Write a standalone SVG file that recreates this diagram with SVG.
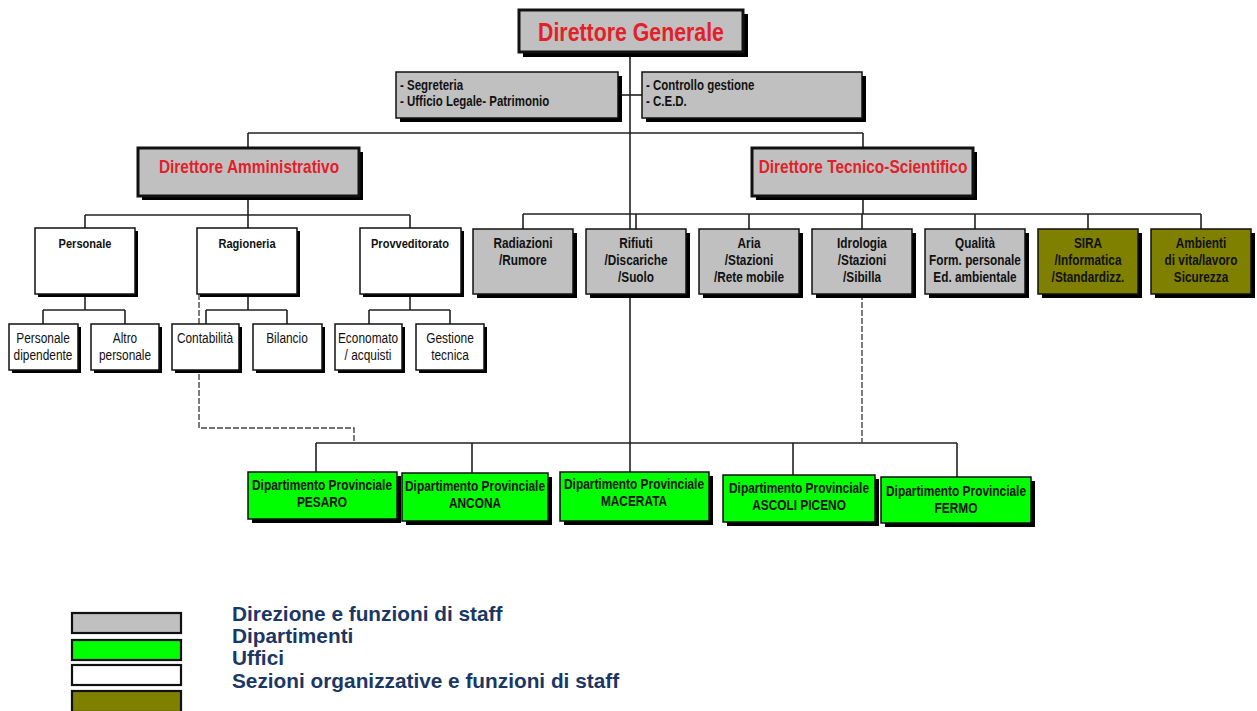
<svg xmlns="http://www.w3.org/2000/svg" width="1257" height="711" viewBox="0 0 1257 711">
  <style>
    .bg { fill: #ffffff; }
    .sh { fill: #000000; }
    .box { stroke: #111111; stroke-width: 1.5; }
    .main { stroke: #111111; stroke-width: 3; }
    .gray { fill: #C0C0C0; }
    .green { fill: #00FF00; }
    .white { fill: #FFFFFF; }
    .olive { fill: #808000; }
    .conn { fill: none; stroke: #222222; stroke-width: 1.6; }
    .dash { fill: none; stroke: #444444; stroke-width: 1.4; stroke-dasharray: 6 2; }
    /* condensed lettering: Liberation Sans squeezed to Arial Narrow proportions via transform */
    .nb { font-family: "Liberation Sans", Arial, sans-serif; font-weight: bold; fill: #111111; }
    .nr { font-family: "Liberation Sans", Arial, sans-serif; font-weight: normal; fill: #111111; }
    .red { fill: #E3202A; }
    .c { text-anchor: middle; }
    .s14 { font-size: 14px; }
    .t { font-size: 14.4px; }
    .k { font-size: 14.5px; }
    .legend { font-family: "Liberation Sans", Arial, sans-serif; font-weight: bold; font-size: 20.8px; fill: #1B3763; }
  </style>

  <rect class="bg" x="0" y="0" width="1257" height="711"/>

  <!-- connectors -->
  <g id="connectors">
    <path class="conn" d="M630 52 V472"/>
    <path class="conn" d="M618 95 H642"/>
    <path class="conn" d="M248 133 H863 M248 133 V148 M863 133 V148"/>
    <!-- administrative branch -->
    <path class="conn" d="M248 196 V228 M85 215 H410 M85 215 V228 M410 215 V228"/>
    <path class="conn" d="M85 294 V310 M43 310 H125 M43 310 V324 M125 310 V324"/>
    <path class="conn" d="M248 294 V310 M206 310 H287 M206 310 V324 M287 310 V324"/>
    <path class="conn" d="M410 294 V310 M369 310 H450 M369 310 V324 M450 310 V324"/>
    <!-- technical branch -->
    <path class="conn" d="M863 196 V214 M523 214 H1201 M523 214 V229 M636 214 V229 M749 214 V229 M862 214 V229 M975 214 V229 M1088 214 V229 M1201 214 V229"/>
    <!-- provincial departments -->
    <path class="conn" d="M316 443 H957 M316 443 V472 M472 443 V473 M793 443 V475 M957 443 V477"/>
    <path class="dash" d="M199 294 V428 H354 V443"/>
    <path class="dash" d="M862 294 V443"/>
  </g>

  <!-- top management -->
  <g id="direttore-generale">
    <rect class="sh" x="523" y="14" width="225" height="43"/>
    <rect class="gray main" x="519" y="10" width="224" height="42"/>
    <text class="nb red c" transform="matrix(0.82 0 0 1 631 0)" x="0" y="41" font-size="26">Direttore Generale</text>
  </g>
  <g id="staff-segreteria">
    <rect class="sh" x="400" y="76" width="222" height="46"/>
    <rect class="gray box" x="396" y="72" width="222" height="46"/>
    <text class="nb s14" transform="matrix(0.82 0 0 1 400 0)" x="0" y="90">- Segreteria</text>
    <text class="nb s14" transform="matrix(0.82 0 0 1 400 0)" x="0" y="106">- Ufficio Legale- Patrimonio</text>
  </g>
  <g id="staff-controllo">
    <rect class="sh" x="646" y="76" width="220" height="46"/>
    <rect class="gray box" x="642" y="72" width="220" height="46"/>
    <text class="nb s14" transform="matrix(0.82 0 0 1 646 0)" x="0" y="90">- Controllo gestione</text>
    <text class="nb s14" transform="matrix(0.82 0 0 1 646 0)" x="0" y="106">- C.E.D.</text>
  </g>

  <g id="direttore-amministrativo">
    <rect class="sh" x="142" y="152" width="221" height="48"/>
    <rect class="gray main" x="138" y="148" width="221" height="48"/>
    <text class="nb red c" transform="matrix(0.82 0 0 1 249 0)" x="0" y="173" font-size="18.8">Direttore Amministrativo</text>
  </g>
  <g id="direttore-tecnico">
    <rect class="sh" x="756" y="152" width="221" height="48"/>
    <rect class="gray main" x="752" y="148" width="221" height="48"/>
    <text class="nb red c" transform="matrix(0.82 0 0 1 863 0)" x="0" y="173" font-size="18.8">Direttore Tecnico-Scientifico</text>
  </g>

  <!-- administrative offices -->
  <g id="personale">
    <rect class="sh" x="38" y="231" width="100" height="66"/>
    <rect class="white box" x="35" y="228" width="100" height="66"/>
    <text class="nb c" transform="matrix(0.82 0 0 1 85 0)" x="0" y="248" font-size="13.5">Personale</text>
  </g>
  <g id="ragioneria">
    <rect class="sh" x="200" y="231" width="100" height="66"/>
    <rect class="white box" x="197" y="228" width="100" height="66"/>
    <text class="nb c" transform="matrix(0.82 0 0 1 247 0)" x="0" y="248" font-size="13.5">Ragioneria</text>
  </g>
  <g id="provveditorato">
    <rect class="sh" x="363" y="231" width="101" height="66"/>
    <rect class="white box" x="360" y="228" width="101" height="66"/>
    <text class="nb c" transform="matrix(0.82 0 0 1 410 0)" x="0" y="248" font-size="13.5">Provveditorato</text>
  </g>

  <g id="personale-dipendente">
    <rect class="sh" x="12" y="327" width="69" height="46"/>
    <rect class="white box" x="9" y="324" width="69" height="46"/>
    <text class="nr c k" transform="matrix(0.82 0 0 1 43 0)" x="0" y="343">Personale</text>
    <text class="nr c k" transform="matrix(0.82 0 0 1 43 0)" x="0" y="360">dipendente</text>
  </g>
  <g id="altro-personale">
    <rect class="sh" x="94" y="327" width="68" height="46"/>
    <rect class="white box" x="91" y="324" width="68" height="46"/>
    <text class="nr c k" transform="matrix(0.82 0 0 1 125 0)" x="0" y="343">Altro</text>
    <text class="nr c k" transform="matrix(0.82 0 0 1 125 0)" x="0" y="360">personale</text>
  </g>
  <g id="contabilita">
    <rect class="sh" x="175" y="327" width="67" height="46"/>
    <rect class="white box" x="172" y="324" width="67" height="46"/>
    <text class="nr c k" transform="matrix(0.82 0 0 1 205 0)" x="0" y="343">Contabilità</text>
  </g>
  <g id="bilancio">
    <rect class="sh" x="256" y="327" width="69" height="46"/>
    <rect class="white box" x="253" y="324" width="69" height="46"/>
    <text class="nr c k" transform="matrix(0.82 0 0 1 287 0)" x="0" y="343">Bilancio</text>
  </g>
  <g id="economato">
    <rect class="sh" x="338" y="327" width="67" height="46"/>
    <rect class="white box" x="335" y="324" width="67" height="46"/>
    <text class="nr c k" transform="matrix(0.82 0 0 1 368 0)" x="0" y="343">Economato</text>
    <text class="nr c k" transform="matrix(0.82 0 0 1 368 0)" x="0" y="360">/ acquisti</text>
  </g>
  <g id="gestione-tecnica">
    <rect class="sh" x="419" y="327" width="68" height="46"/>
    <rect class="white box" x="416" y="324" width="68" height="46"/>
    <text class="nr c k" transform="matrix(0.82 0 0 1 450 0)" x="0" y="343">Gestione</text>
    <text class="nr c k" transform="matrix(0.82 0 0 1 450 0)" x="0" y="360">tecnica</text>
  </g>

  <!-- technical sections -->
  <g id="radiazioni">
    <rect class="sh" x="477" y="233" width="100" height="65"/>
    <rect class="gray box" x="473" y="229" width="100" height="65"/>
    <text class="nb c t" transform="matrix(0.82 0 0 1 523 0)" x="0" y="248">Radiazioni</text>
    <text class="nb c t" transform="matrix(0.82 0 0 1 523 0)" x="0" y="265">/Rumore</text>
  </g>
  <g id="rifiuti">
    <rect class="sh" x="590" y="233" width="100" height="65"/>
    <rect class="gray box" x="586" y="229" width="100" height="65"/>
    <text class="nb c t" transform="matrix(0.82 0 0 1 636 0)" x="0" y="248">Rifiuti</text>
    <text class="nb c t" transform="matrix(0.82 0 0 1 636 0)" x="0" y="265">/Discariche</text>
    <text class="nb c t" transform="matrix(0.82 0 0 1 636 0)" x="0" y="282">/Suolo</text>
  </g>
  <g id="aria">
    <rect class="sh" x="703" y="233" width="100" height="65"/>
    <rect class="gray box" x="699" y="229" width="100" height="65"/>
    <text class="nb c t" transform="matrix(0.82 0 0 1 749 0)" x="0" y="248">Aria</text>
    <text class="nb c t" transform="matrix(0.82 0 0 1 749 0)" x="0" y="265">/Stazioni</text>
    <text class="nb c t" transform="matrix(0.82 0 0 1 749 0)" x="0" y="282">/Rete mobile</text>
  </g>
  <g id="idrologia">
    <rect class="sh" x="816" y="233" width="100" height="65"/>
    <rect class="gray box" x="812" y="229" width="100" height="65"/>
    <text class="nb c t" transform="matrix(0.82 0 0 1 862 0)" x="0" y="248">Idrologia</text>
    <text class="nb c t" transform="matrix(0.82 0 0 1 862 0)" x="0" y="265">/Stazioni</text>
    <text class="nb c t" transform="matrix(0.82 0 0 1 862 0)" x="0" y="282">/Sibilla</text>
  </g>
  <g id="qualita">
    <rect class="sh" x="929" y="233" width="100" height="65"/>
    <rect class="gray box" x="925" y="229" width="100" height="65"/>
    <text class="nb c t" transform="matrix(0.82 0 0 1 975 0)" x="0" y="248">Qualità</text>
    <text class="nb c t" transform="matrix(0.82 0 0 1 975 0)" x="0" y="265">Form. personale</text>
    <text class="nb c t" transform="matrix(0.82 0 0 1 975 0)" x="0" y="282">Ed. ambientale</text>
  </g>
  <g id="sira">
    <rect class="sh" x="1042" y="233" width="100" height="65"/>
    <rect class="olive box" x="1038" y="229" width="100" height="65"/>
    <text class="nb c t" transform="matrix(0.82 0 0 1 1088 0)" x="0" y="248">SIRA</text>
    <text class="nb c t" transform="matrix(0.82 0 0 1 1088 0)" x="0" y="265">/Informatica</text>
    <text class="nb c t" transform="matrix(0.82 0 0 1 1088 0)" x="0" y="282">/Standardizz.</text>
  </g>
  <g id="ambienti">
    <rect class="sh" x="1155" y="233" width="100" height="65"/>
    <rect class="olive box" x="1151" y="229" width="100" height="65"/>
    <text class="nb c t" transform="matrix(0.82 0 0 1 1201 0)" x="0" y="248">Ambienti</text>
    <text class="nb c t" transform="matrix(0.82 0 0 1 1201 0)" x="0" y="265">di vita/lavoro</text>
    <text class="nb c t" transform="matrix(0.82 0 0 1 1201 0)" x="0" y="282">Sicurezza</text>
  </g>

  <!-- provincial departments -->
  <g id="dip-pesaro">
    <rect class="sh" x="252" y="476" width="149" height="47"/>
    <rect class="green box" x="248" y="472" width="149" height="47"/>
    <text class="nb c k" transform="matrix(0.82 0 0 1 322 0)" x="0" y="490">Dipartimento Provinciale</text>
    <text class="nb c k" transform="matrix(0.82 0 0 1 322 0)" x="0" y="507">PESARO</text>
  </g>
  <g id="dip-ancona">
    <rect class="sh" x="406" y="477" width="146" height="48"/>
    <rect class="green box" x="402" y="473" width="146" height="48"/>
    <text class="nb c k" transform="matrix(0.82 0 0 1 475 0)" x="0" y="491">Dipartimento Provinciale</text>
    <text class="nb c k" transform="matrix(0.82 0 0 1 475 0)" x="0" y="508">ANCONA</text>
  </g>
  <g id="dip-macerata">
    <rect class="sh" x="564" y="476" width="149" height="49"/>
    <rect class="green box" x="560" y="472" width="149" height="49"/>
    <text class="nb c k" transform="matrix(0.82 0 0 1 634 0)" x="0" y="489">Dipartimento Provinciale</text>
    <text class="nb c k" transform="matrix(0.82 0 0 1 634 0)" x="0" y="506">MACERATA</text>
  </g>
  <g id="dip-ascoli">
    <rect class="sh" x="727" y="479" width="152" height="47"/>
    <rect class="green box" x="723" y="475" width="152" height="47"/>
    <text class="nb c k" transform="matrix(0.82 0 0 1 799 0)" x="0" y="493">Dipartimento Provinciale</text>
    <text class="nb c k" transform="matrix(0.82 0 0 1 799 0)" x="0" y="510">ASCOLI PICENO</text>
  </g>
  <g id="dip-fermo">
    <rect class="sh" x="885" y="481" width="150" height="46"/>
    <rect class="green box" x="881" y="477" width="150" height="46"/>
    <text class="nb c k" transform="matrix(0.82 0 0 1 956 0)" x="0" y="496">Dipartimento Provinciale</text>
    <text class="nb c k" transform="matrix(0.82 0 0 1 956 0)" x="0" y="513">FERMO</text>
  </g>

  <!-- legend -->
  <g id="legend">
    <rect class="gray" x="72" y="613" width="109" height="20" stroke="#111111" stroke-width="2.2"/>
    <rect class="green" x="72" y="640" width="109" height="20" stroke="#111111" stroke-width="2.2"/>
    <rect class="white" x="72" y="665" width="109" height="20" stroke="#111111" stroke-width="2.2"/>
    <rect class="olive" x="72" y="691" width="109" height="21" stroke="#111111" stroke-width="2.2"/>
    <text class="legend" x="232" y="621">Direzione e funzioni di staff</text>
    <text class="legend" x="232" y="643">Dipartimenti</text>
    <text class="legend" x="232" y="665">Uffici</text>
    <text class="legend" x="232" y="688">Sezioni organizzative e funzioni di staff</text>
  </g>
</svg>
